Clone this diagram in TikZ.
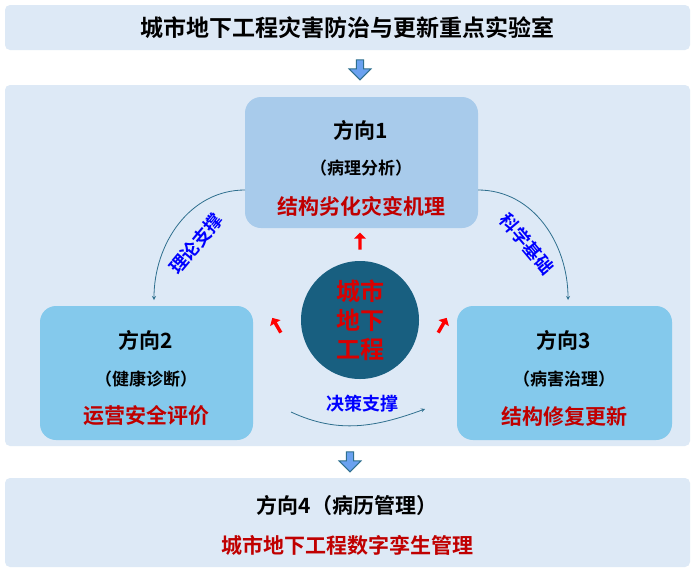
\documentclass[tikz,border=0pt]{standalone}
\usepackage{fontspec}
\setmainfont{Noto Sans CJK SC}[BoldFont={Noto Sans CJK SC Bold}]
\usetikzlibrary{shapes.arrows}
\definecolor{panel}{HTML}{DDE9F6}
\definecolor{topbox}{HTML}{A8CBEB}
\definecolor{sidebox}{HTML}{84C9EC}
\definecolor{core}{HTML}{185F80}
\definecolor{arcline}{HTML}{2E6F8E}
\definecolor{darkred}{HTML}{C00000}
\tikzset{
  band/.style={fill=panel,draw=none,rounded corners=5pt},
  dirbox/.style={draw=none,rounded corners=16pt},
  downarr/.style={single arrow,draw=arcline,fill=sidebox!80!blue,line width=1pt,shape border rotate=270,
    minimum height=20pt,minimum width=22pt,single arrow head extend=5pt,inner sep=2pt},
  redarr/.style={single arrow,fill=red,draw=none,minimum height=17pt,minimum width=12pt,
    single arrow head extend=3pt,inner sep=1pt},
  linkarc/.style={draw=arcline,line width=0.8pt,-stealth},
  hd/.style={font=\fontsize{21}{25}\selectfont\bfseries},
  sub/.style={font=\fontsize{17}{20}\selectfont\bfseries},
  keyword/.style={font=\fontsize{21}{25}\selectfont\bfseries,text=darkred},
  linklabel/.style={font=\fontsize{18}{21}\selectfont\bfseries,text=blue,inner sep=0pt}
}
\begin{document}
\begin{tikzpicture}[x=1pt,y=-1pt]
  \useasboundingbox[fill=white] (0,0) rectangle (700,573);
  % bands
  \fill[band] (5,5) rectangle (690,50);
  \node[hd,font=\fontsize{23}{27}\selectfont\bfseries] (title) at (347,28) {城市地下工程灾害防治与更新重点实验室};
  \node[downarr] (arrA) at (360,68) {};
  \fill[band] (5,85) rectangle (690,446);
  \node[downarr] (arrB) at (350,460) {};
  \fill[band] (5,478) rectangle (690,567);
  \node[hd] (dir4) at (347,505) {方向4（病历管理）};
  \node[keyword] (key4) at (347,545) {城市地下工程数字孪生管理};

  % direction boxes
  \fill[dirbox,topbox] (245,97) rectangle (478,228);
  \node[hd] (dir1) at (361,130) {方向1};
  \node[sub] (sub1) at (361,168) {（病理分析）};
  \node[keyword] (key1) at (361,206) {结构劣化灾变机理};
  \coordinate (c1l) at (245,190);
  \coordinate (c1r) at (478,190);

  \fill[dirbox,sidebox] (40,306) rectangle (253,440);
  \node[hd] (dir2) at (146,340) {方向2};
  \node[sub] (sub2) at (146,379) {（健康诊断）};
  \node[keyword] (key2) at (146,416) {运营安全评价};

  \fill[dirbox,sidebox] (457,306) rectangle (672,440);
  \node[hd] (dir3) at (564,340) {方向3};
  \node[sub] (sub3) at (564,379) {（病害治理）};
  \node[keyword] (key3) at (564,416) {结构修复更新};

  % centre
  \node[circle,fill=core,minimum size=118pt,inner sep=0pt] (core) at (360,320) {};
  \node[font=\fontsize{24}{29}\selectfont\bfseries,text=red!85!black,align=center] (coretxt) at (360,320)
    {城市\\地下\\工程};
  \node[redarr,rotate=90] (ra1) at (360,242) {};
  \node[redarr,rotate=120] (ra2) at (277,326) {};
  \node[redarr,rotate=60] (ra3) at (442,326) {};

  % links
  \coordinate (p2) at (154,300);
  \coordinate (p3) at (568,300);
  \coordinate (b0) at (291,412);
  \coordinate (b1) at (425,409);
  \draw[linkarc] (c1l) to[out=180,in=90] (p2);
  \draw[linkarc] (c1r) to[out=0,in=90] (p3);
  \draw[linkarc] (b0) to[out=-25,in=200] (b1);
  \node[linklabel,rotate=50] (l1) at (196,244) {理论支撑};
  \node[linklabel,rotate=-50] (l2) at (527,244) {科学基础};
  \node[linklabel] (l3) at (362,404) {决策支撑};
\end{tikzpicture}
\end{document}
